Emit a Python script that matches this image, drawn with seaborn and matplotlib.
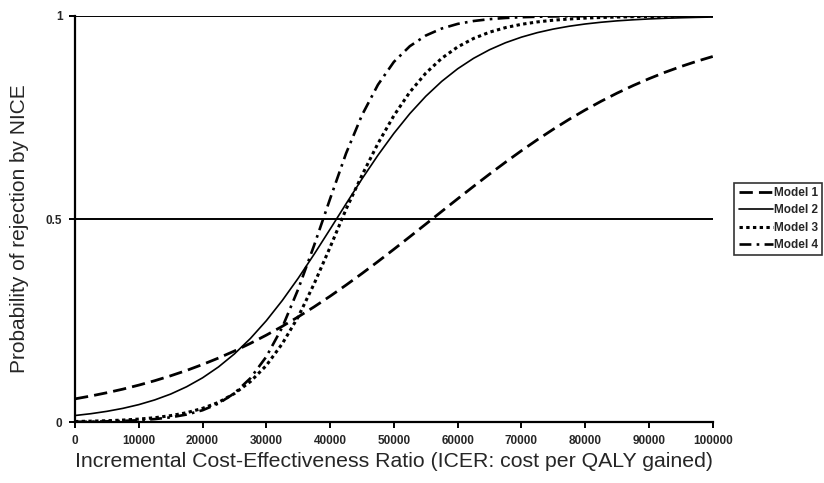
import matplotlib
matplotlib.use("Agg")
import matplotlib.pyplot as plt
import pandas as pd
import seaborn as sns

# ICER thresholds (cost per QALY gained)
icer = [0, 2500, 5000, 7500, 10000, 12500, 15000, 17500, 20000, 22500,
        25000, 27500, 30000, 32500, 35000, 37500, 40000, 42500, 45000, 47500,
        50000, 52500, 55000, 57500, 60000, 62500, 65000, 67500, 70000, 72500,
        75000, 77500, 80000, 82500, 85000, 87500, 90000, 92500, 95000, 97500,
        100000]

# Probability of rejection by NICE for each model
model_1 = [0.0573, 0.0644, 0.0724, 0.0812, 0.0911, 0.1020, 0.1141, 0.1273,
           0.1419, 0.1578, 0.1751, 0.1939, 0.2142, 0.2359, 0.2592, 0.2839,
           0.3100, 0.3374, 0.3659, 0.3953, 0.4256, 0.4564, 0.4875, 0.5187,
           0.5498, 0.5805, 0.6106, 0.6399, 0.6682, 0.6953, 0.7211, 0.7456,
           0.7685, 0.7900, 0.8100, 0.8285, 0.8455, 0.8612, 0.8754, 0.8884,
           0.9002]
model_2 = [0.0163, 0.0208, 0.0266, 0.0339, 0.0431, 0.0547, 0.0691, 0.0871,
           0.1091, 0.1359, 0.1680, 0.2059, 0.2497, 0.2994, 0.3543, 0.4134,
           0.4750, 0.5374, 0.5987, 0.6570, 0.7109, 0.7595, 0.8022, 0.8389,
           0.8699, 0.8957, 0.9168, 0.9340, 0.9478, 0.9589, 0.9677, 0.9747,
           0.9802, 0.9845, 0.9879, 0.9905, 0.9926, 0.9942, 0.9955, 0.9965,
           0.9973]
model_3 = [0.0016, 0.0024, 0.0035, 0.0051, 0.0075, 0.0109, 0.0160, 0.0232,
           0.0339, 0.0487, 0.0704, 0.0998, 0.1394, 0.1931, 0.2592, 0.3407,
           0.4305, 0.5240, 0.6078, 0.6859, 0.7546, 0.8125, 0.8591, 0.8957,
           0.9237, 0.9446, 0.9600, 0.9713, 0.9794, 0.9853, 0.9895, 0.9925,
           0.9947, 0.9962, 0.9973, 0.9981, 0.9986, 0.9990, 0.9993, 0.9995,
           0.9997]
model_4 = [0.0007, 0.0012, 0.0019, 0.0030, 0.0047, 0.0075, 0.0118, 0.0187,
           0.0293, 0.0458, 0.0711, 0.1081, 0.1611, 0.2333, 0.3274, 0.4354,
           0.5498, 0.6615, 0.7558, 0.8306, 0.8869, 0.9255, 0.9517, 0.9690,
           0.9804, 0.9875, 0.9921, 0.9950, 0.9969, 0.9980, 0.9988, 0.9992,
           0.9995, 0.9997, 0.9998, 0.9999, 0.9999, 1.0, 1.0, 1.0, 1.0]

model_names = ["Model 1", "Model 2", "Model 3", "Model 4"]
x_ticks = [0, 10000, 20000, 30000, 40000, 50000, 60000, 70000, 80000, 90000, 100000]
y_ticks = [0, 0.5, 1]
y_tick_labels = ["0", "0.5", "1"]

frames = []
for name, vals in zip(model_names, [model_1, model_2, model_3, model_4]):
    frames.append(pd.DataFrame({"ICER": icer, "Probability": vals, "Model": name}))
df = pd.concat(frames, ignore_index=True)

sns.set_style("white")
plt.rcParams["font.family"] = ["Liberation Sans", "DejaVu Sans"]

fig = plt.figure(figsize=(8.24, 4.83), dpi=100)
ax = fig.add_axes([0.091, 0.126, 0.774, 0.841])

line_styles = {
    "Model 1": dict(lw=2.0, dashes=(4.8, 2.2)),
    "Model 2": dict(lw=1.2, dashes=""),
    "Model 3": dict(lw=2.2, dashes=(1.1, 1.1)),
    "Model 4": dict(lw=1.9, dashes=(4.5, 2.0, 1.0, 2.0)),
}

sns.lineplot(data=df, x="ICER", y="Probability", hue="Model", style="Model",
             palette=["black"] * 4,
             dashes={k: v["dashes"] for k, v in line_styles.items()},
             ax=ax, legend=False)

for line, name in zip(ax.get_lines(), model_names):
    line.set_linewidth(line_styles[name]["lw"])
    line.set_label(name)

# reference lines at 0.5 and 1
for yv in [0.5, 1.0]:
    ax.axhline(yv, color="black", lw=1.4, zorder=1)

ax.set_xlim(0, 100000)
ax.set_ylim(0, 1)
ax.set_xticks(x_ticks)
ax.set_xticklabels([str(t) for t in x_ticks], fontsize=8.5, fontweight="bold")
ax.set_yticks(y_ticks)
ax.set_yticklabels(y_tick_labels, fontsize=8.5, fontweight="bold")
ax.tick_params(axis="both", direction="out", length=4, width=1.4, color="black",
               bottom=True, left=True, pad=5)

for side in ["top", "right"]:
    ax.spines[side].set_visible(False)
for side in ["left", "bottom"]:
    ax.spines[side].set_color("black")
    ax.spines[side].set_linewidth(1.6)

ax.set_xlabel("Incremental Cost-Effectiveness Ratio (ICER: cost per QALY gained)",
              fontsize=15.3, labelpad=4)
ax.set_ylabel("Probability of rejection by NICE", fontsize=15)
ax.yaxis.set_label_coords(-0.072, 0.477)

leg = ax.legend(handles=ax.get_lines()[:4], labels=model_names,
                loc="center left", bbox_to_anchor=(1.034, 0.5),
                prop={"size": 8.5, "weight": "bold"},
                frameon=True, fancybox=False, edgecolor="black",
                handlelength=2.9, handletextpad=0.1, labelspacing=0.45,
                borderpad=0.35, borderaxespad=0)
leg.get_frame().set_linewidth(1.2)

fig.savefig("out.png", dpi=100)
